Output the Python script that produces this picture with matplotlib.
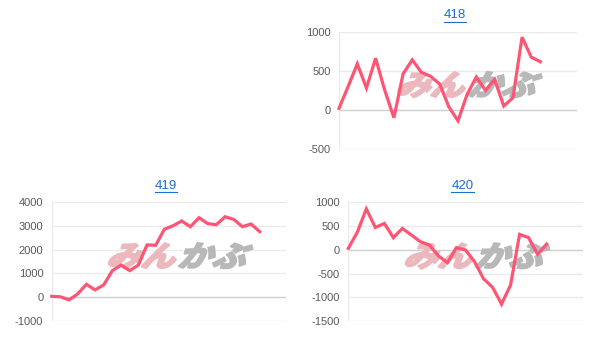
import matplotlib
matplotlib.use("Agg")
import matplotlib.pyplot as plt
from matplotlib.textpath import TextPath
from matplotlib.patches import PathPatch
from matplotlib.font_manager import FontProperties
from matplotlib.transforms import Affine2D
from matplotlib.lines import Line2D
import numpy as np

W, H = 610, 339

# ---- data ----
titles = ["418", "419", "420"]

s418 = [20, 300, 590, 280, 660, 250, -100, 460, 640, 480, 430, 330, 40, -140,
        200, 420, 250, 390, 50, 155, 930, 675, 615]
s419 = [30, 10, -120, 130, 535, 300, 510, 1115, 1350, 1115, 1350, 2200, 2185,
        2860, 3010, 3210, 2970, 3350, 3100, 3055, 3390, 3280, 2970, 3085, 2760]
s420 = [30, 370, 860, 470, 555, 255, 450, 310, 170, 100, -130, -270, 45, -5,
        -250, -610, -790, -1145, -740, 325, 255, -95, 120]

series = [s418, s419, s420]
yticks = [[-500, 0, 500, 1000],
          [-1000, 0, 1000, 2000, 3000, 4000],
          [-1500, -1000, -500, 0, 500, 1000]]
xmax = [26, 27, 26]

# axes boxes in pixels: left, top, right, bottom
boxes = [(339, 31.7, 577, 149),
         (51.7, 202.3, 285.7, 320.7),
         (348.3, 202.3, 582.7, 321)]

line_color = "#ff5574"
grid_color = "#ebebeb"
zero_color = "#cfcfcf"
label_color = "#5a5a5a"
title_color = "#1a6fd1"

fig = plt.figure(figsize=(W / 100, H / 100), dpi=100)
fig.patch.set_facecolor("white")

jp = FontProperties(family="Noto Sans CJK JP", weight="heavy")


def watermark(ax, cx, cy):
    # stylised "みんかぶ" logo, pink + gray, slanted
    size = 29
    for txt, col, dx in [("みん", "#ebb9bd", -72), ("かぶ", "#b8b8b8", -1)]:
        tp = TextPath((0, 0), txt, size=size, prop=jp)
        tr = (Affine2D().scale(1.18, 1.0).skew_deg(24, 0)
              .translate(cx + dx, H - cy - 12)
              .scale(1 / W, 1 / H) + fig.transFigure)
        ax.add_patch(PathPatch(tp, transform=tr, facecolor=col,
                               edgecolor=col, lw=1.2, zorder=1, clip_on=False))


for i in range(3):
    l, t, r, b = boxes[i]
    ax = fig.add_axes([l / W, 1 - b / H, (r - l) / W, (b - t) / H])
    yt = yticks[i]
    ax.set_xlim(0, xmax[i])
    ax.set_ylim(yt[0], yt[-1])
    for v in yt:
        ax.axhline(v, color=zero_color if v == 0 else grid_color,
                   lw=1, zorder=0.5)
    ax.axvline(0, color=grid_color, lw=1, zorder=0.5)
    for sp in ax.spines.values():
        sp.set_visible(False)
    ax.set_xticks([])
    ax.set_yticks(yt)
    ax.set_yticklabels([str(v) for v in yt])
    ax.tick_params(axis="y", length=0, pad=6, labelsize=8,
                   labelcolor=label_color)
    for lab in ax.get_yticklabels():
        lab.set_family("Liberation Sans")

    data = series[i]
    ax.plot(np.arange(len(data)), data, color=line_color, lw=2.3,
            solid_joinstyle="miter", zorder=3, clip_on=False)

    cx = (l + r) / 2 + 9
    cy = (t + b) / 2 - 7
    watermark(ax, cx, cy)

    # title, blue and underlined
    tx = (l + r) / 2 - 3
    ty = t - 16.5
    txt = fig.text(tx / W, 1 - ty / H, titles[i], ha="center", va="center",
                   fontsize=9.5, color=title_color, family="Liberation Sans")
    fig.canvas.draw()
    bb = txt.get_window_extent()
    uy = bb.y0 - 0.5
    fig.add_artist(Line2D([bb.x0 / W, bb.x1 / W], [uy / H, uy / H],
                          transform=fig.transFigure, color=title_color, lw=0.8))

fig.savefig("out.png", dpi=100, facecolor="white")
